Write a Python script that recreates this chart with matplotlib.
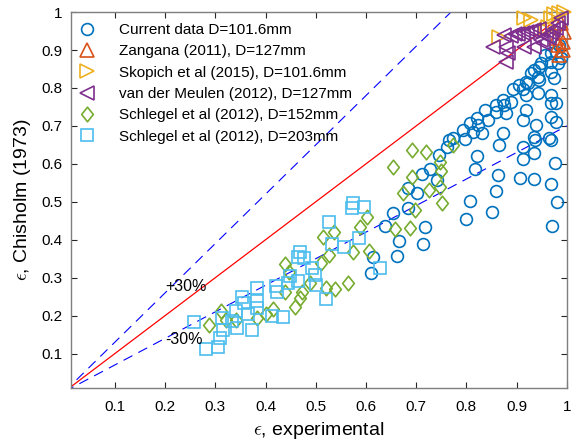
import numpy as np
import matplotlib
matplotlib.use("Agg")
import matplotlib.pyplot as plt
from matplotlib.path import Path

plt.rcParams['font.family'] = ['Liberation Sans', 'DejaVu Sans']
plt.rcParams['mathtext.fontset'] = 'cm'

# ===== dados =====
cur_x = [0.614, 0.610, 0.638, 0.654, 0.662, 0.666, 0.684, 0.684, 0.702, 0.712,
         0.714, 0.718, 0.728, 0.742, 0.746, 0.762, 0.766, 0.774, 0.794, 0.798,
         0.800, 0.808, 0.808, 0.814, 0.818, 0.822, 0.822, 0.824, 0.832, 0.838,
         0.842, 0.850, 0.858, 0.858, 0.858, 0.862, 0.864, 0.872, 0.872, 0.874,
         0.878, 0.888, 0.892, 0.904, 0.906, 0.912, 0.912, 0.912, 0.912, 0.918,
         0.918, 0.918, 0.922, 0.928, 0.934, 0.934, 0.934, 0.934, 0.938, 0.942,
         0.942, 0.944, 0.944, 0.948, 0.956, 0.964, 0.968, 0.968, 0.968, 0.968,
         0.968, 0.968, 0.968, 0.968, 0.970, 0.974, 0.976, 0.978, 0.978, 0.980,
         0.982, 0.936, 0.978, 0.984, 0.988]
cur_y = [0.355, 0.313, 0.437, 0.471, 0.358, 0.397, 0.537, 0.484, 0.524, 0.574,
         0.389, 0.434, 0.587, 0.558, 0.624, 0.645, 0.663, 0.668, 0.689, 0.666,
         0.455, 0.708, 0.503, 0.684, 0.587, 0.721, 0.621, 0.703, 0.682, 0.742,
         0.716, 0.474, 0.755, 0.737, 0.529, 0.571, 0.650, 0.768, 0.682, 0.755,
         0.734, 0.763, 0.797, 0.808, 0.563, 0.797, 0.716, 0.645, 0.613, 0.816,
         0.782, 0.742, 0.813, 0.839, 0.847, 0.671, 0.629, 0.561, 0.703, 0.829,
         0.787, 0.855, 0.821, 0.866, 0.887, 0.668, 0.892, 0.868, 0.842, 0.782,
         0.761, 0.724, 0.663, 0.547, 0.437, 0.826, 0.603, 0.761, 0.711, 0.500,
         0.866, 0.663, 0.895, 0.913, 0.879]

zan_x = [0.978, 0.982, 0.992, 0.984, 0.992, 0.994, 0.988]
zan_y = [0.932, 0.913, 0.900, 0.887, 0.921, 0.947, 0.971]

sko_x = [0.864, 0.914, 0.928, 0.958, 0.968, 0.974, 0.984, 0.994, 0.962]
sko_y = [0.934, 0.984, 0.979, 0.953, 0.984, 0.995, 0.997, 0.999, 0.961]

vdm_x = [0.852, 0.874, 0.878, 0.882, 0.878, 0.888, 0.897, 0.903, 0.912, 0.921,
         0.928, 0.935, 0.944, 0.914, 0.934, 0.952, 0.964, 0.968, 0.978, 0.982,
         0.988, 0.948, 0.958, 0.972]
vdm_y = [0.908, 0.939, 0.908, 0.892, 0.868, 0.937, 0.941, 0.942, 0.946, 0.947,
         0.951, 0.952, 0.955, 0.908, 0.908, 0.918, 0.932, 0.945, 0.958, 0.971,
         0.984, 0.926, 0.937, 0.953]

s152_x = [0.288, 0.312, 0.322, 0.342, 0.384, 0.400, 0.414, 0.438, 0.446, 0.438,
          0.458, 0.468, 0.472, 0.488, 0.510, 0.514, 0.520, 0.526, 0.536, 0.538,
          0.564, 0.574, 0.588, 0.602, 0.606, 0.654, 0.658, 0.674, 0.688, 0.692,
          0.692, 0.698, 0.720, 0.726, 0.748, 0.748, 0.750, 0.752, 0.774]
s152_y = [0.174, 0.213, 0.189, 0.189, 0.195, 0.205, 0.218, 0.337, 0.316, 0.263,
          0.224, 0.247, 0.263, 0.287, 0.339, 0.408, 0.274, 0.361, 0.421, 0.271,
          0.287, 0.368, 0.434, 0.461, 0.371, 0.592, 0.429, 0.524, 0.432, 0.637,
          0.566, 0.479, 0.632, 0.532, 0.605, 0.539, 0.582, 0.497, 0.650]

s203_x = [0.258, 0.282, 0.306, 0.310, 0.314, 0.316, 0.334, 0.342, 0.344, 0.354,
          0.358, 0.366, 0.374, 0.384, 0.384, 0.384, 0.412, 0.420, 0.422, 0.434,
          0.444, 0.448, 0.464, 0.468, 0.476, 0.464, 0.492, 0.498, 0.500, 0.520,
          0.526, 0.532, 0.556, 0.572, 0.574, 0.596, 0.586, 0.628]
s203_y = [0.182, 0.111, 0.116, 0.142, 0.195, 0.161, 0.187, 0.213, 0.168, 0.250,
          0.234, 0.205, 0.161, 0.274, 0.239, 0.221, 0.200, 0.279, 0.261, 0.197,
          0.287, 0.305, 0.355, 0.368, 0.353, 0.292, 0.326, 0.308, 0.282, 0.245,
          0.447, 0.389, 0.382, 0.484, 0.497, 0.487, 0.405, 0.326]

labels = ["Current data D=101.6mm", "Zangana (2011), D=127mm",
          "Skopich et al (2015), D=101.6mm", "van der Meulen (2012), D=127mm",
          "Schlegel et al (2012), D=152mm", "Schlegel et al (2012), D=203mm"]
# ================================

cores = ["#0072BD", "#D95319", "#EDB120", "#7E2F8E", "#77AC30", "#4DBEEE"]
# losango do MATLAB (um pouco mais alto que largo)
losango = Path([(0, 1), (0.8, 0), (0, -1), (-0.8, 0), (0, 1)],
               [Path.MOVETO, Path.LINETO, Path.LINETO, Path.LINETO, Path.CLOSEPOLY])

fig = plt.figure(figsize=(5.72, 4.48), dpi=100)
ax = fig.add_axes([0.124, 0.135, 0.867, 0.838])

series = [(cur_x, cur_y, "o", 8.5), (zan_x, zan_y, "^", 9.5), (sko_x, sko_y, ">", 9.5),
          (vdm_x, vdm_y, "<", 9.5), (s152_x, s152_y, losango, 10.5), (s203_x, s203_y, "s", 8)]
for (xs, ys, mk, ms), c, lab in zip(series, cores, labels):
    ax.plot(xs, ys, linestyle="none", marker=mk, markersize=ms, markerfacecolor="none",
            markeredgecolor=c, markeredgewidth=1.2, label=lab, clip_on=False, zorder=3)

# linhas 1:1 e +-30%
lx = np.array([0.0, 1.0])
ax.plot(lx, lx, color="red", lw=0.9, zorder=2)
ax.plot(lx, 1.3 * lx, color="blue", lw=0.8, dashes=(9, 6), zorder=2)
ax.plot(lx, 0.7 * lx, color="blue", lw=0.8, dashes=(9, 6), zorder=2)
ax.text(0.2, 0.276, "+30%", fontsize=11.5, va="center", ha="left")
ax.text(0.2, 0.137, "-30%", fontsize=11.5, va="center", ha="left")

ax.set_xlim(0.0125, 1.0)
ax.set_ylim(0.0105, 0.997)
ax.set_xticks(np.arange(1, 11) / 10)
ax.set_yticks(np.arange(1, 11) / 10)
ax.set_xticklabels(["0.1", "0.2", "0.3", "0.4", "0.5", "0.6", "0.7", "0.8", "0.9", "1"])
ax.set_yticklabels(["0.1", "0.2", "0.3", "0.4", "0.5", "0.6", "0.7", "0.8", "0.9", "1"])
ax.tick_params(direction="in", length=4, width=0.8, top=True, right=True,
               labelsize=11, pad=6, color="#262626")
ax.tick_params(axis="x", pad=9)
for s in ax.spines.values():
    s.set_color("#7f7f7f")
    s.set_linewidth(1.0)

ax.set_xlabel(r"$\epsilon$, experimental", fontsize=14, labelpad=4)
ax.set_ylabel(r"$\epsilon$, Chisholm (1973)", fontsize=14, labelpad=6)

ax.legend(loc="upper left", frameon=False, fontsize=11, labelspacing=0.48,
          handletextpad=1.44, borderaxespad=0.2, handlelength=1.3,
          bbox_to_anchor=(-0.006, 0.995))

fig.savefig("out.png", dpi=100)
